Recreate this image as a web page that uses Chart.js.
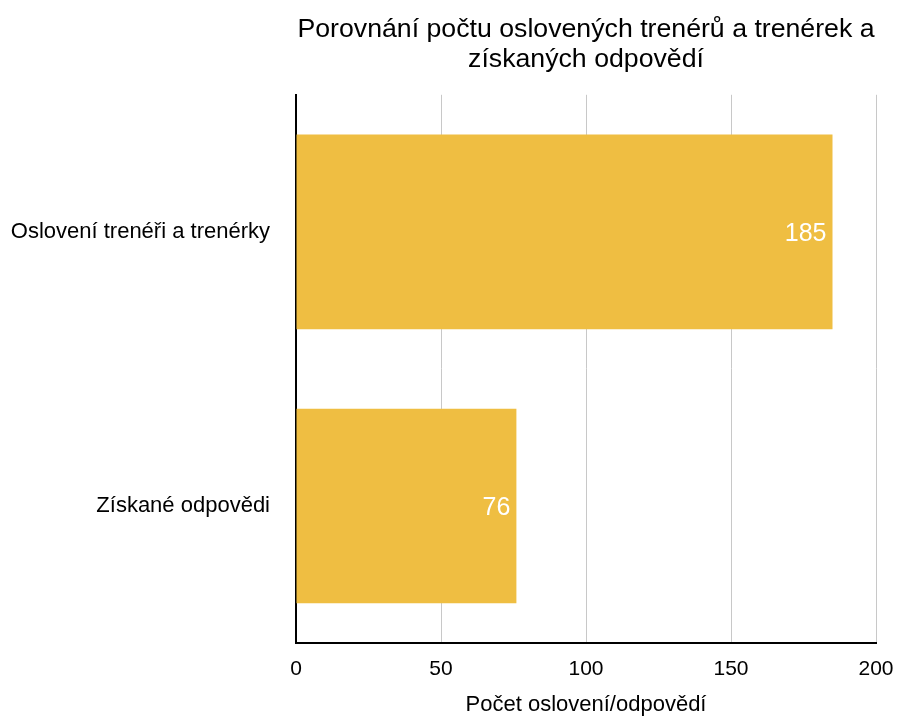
<!DOCTYPE html>
<html>
<head>
<meta charset="utf-8">
<script src="https://cdn.jsdelivr.net/npm/chart.js@4/dist/chart.umd.min.js"></script>
<style>
  html, body { margin: 0; padding: 0; background: #fff; }
  #wrap { width: 897px; height: 718px; }
</style>
</head>
<body>
<div id="wrap"><canvas id="BarChart"></canvas></div>
<script>
var categories = ["Oslovení trenéři a trenérky", "Získané odpovědi"];
var counts = [185, 76];
var xTicks = [0, 50, 100, 150, 200];

var barColor = "#EFBE42";
var fontFamily = "'Liberation Sans', Arial, Helvetica, sans-serif";

// white value labels at the inner end of each bar
var valueLabels = {
  id: "valueLabels",
  afterDatasetsDraw: function (chart) {
    var ctx = chart.ctx;
    var meta = chart.getDatasetMeta(0);
    ctx.save();
    ctx.font = "25px " + fontFamily;
    ctx.fillStyle = "#ffffff";
    ctx.textAlign = "right";
    ctx.textBaseline = "middle";
    meta.data.forEach(function (bar, i) {
      var p = bar.getProps(["x", "y"], true);
      ctx.fillText(String(counts[i]), p.x - 6, p.y + 2);
    });
    ctx.restore();
  }
};

var ctx = document.getElementById("BarChart");
var myChart = new Chart(ctx, {
  type: "bar",
  data: {
    labels: categories,
    datasets: [
      {
        label: "Počet",
        data: counts,
        backgroundColor: barColor,
        borderWidth: 0,
        categoryPercentage: 1,
        barPercentage: 0.71
      }
    ]
  },
  plugins: [valueLabels],
  options: {
    indexAxis: "y",
    responsive: true,
    maintainAspectRatio: false,
    animation: false,
    layout: { padding: { left: 0, right: 21, top: 0, bottom: 0 } },
    plugins: {
      legend: { display: false },
      tooltip: { enabled: false },
      title: {
        display: true,
        fullSize: false,
        text: ["Porovnání počtu oslovených trenérů a trenérek a", "získaných odpovědí"],
        color: "#000",
        font: { family: fontFamily, size: 26.7, weight: "normal", lineHeight: 1.12 },
        padding: { top: 15, bottom: 20 }
      }
    },
    scales: {
      x: {
        min: 0,
        max: 200,
        afterBuildTicks: function (scale) {
          scale.ticks = xTicks.map(function (v) { return { value: v }; });
        },
        afterFit: function (scale) {
          scale.height = 75;
          scale.paddingRight = 0;
        },
        border: { display: true, color: "#000", width: 2 },
        grid: {
          drawTicks: false,
          color: function (c) { return c.tick && c.tick.value === 0 ? "rgba(0,0,0,0)" : "#c8c8c8"; },
          lineWidth: 1
        },
        ticks: {
          color: "#000",
          padding: 14,
          font: { family: fontFamily, size: 21 }
        },
        title: {
          display: true,
          text: "Počet oslovení/odpovědí",
          color: "#000",
          font: { family: fontFamily, size: 22 },
          padding: { top: 6, bottom: 0 }
        }
      },
      y: {
        afterFit: function (scale) { scale.width = 296; },
        border: { display: true, color: "#000", width: 2 },
        grid: { display: false, drawTicks: false },
        ticks: {
          color: "#000",
          padding: 26,
          font: { family: fontFamily, size: 22 }
        }
      }
    }
  }
});
</script>
</body>
</html>
